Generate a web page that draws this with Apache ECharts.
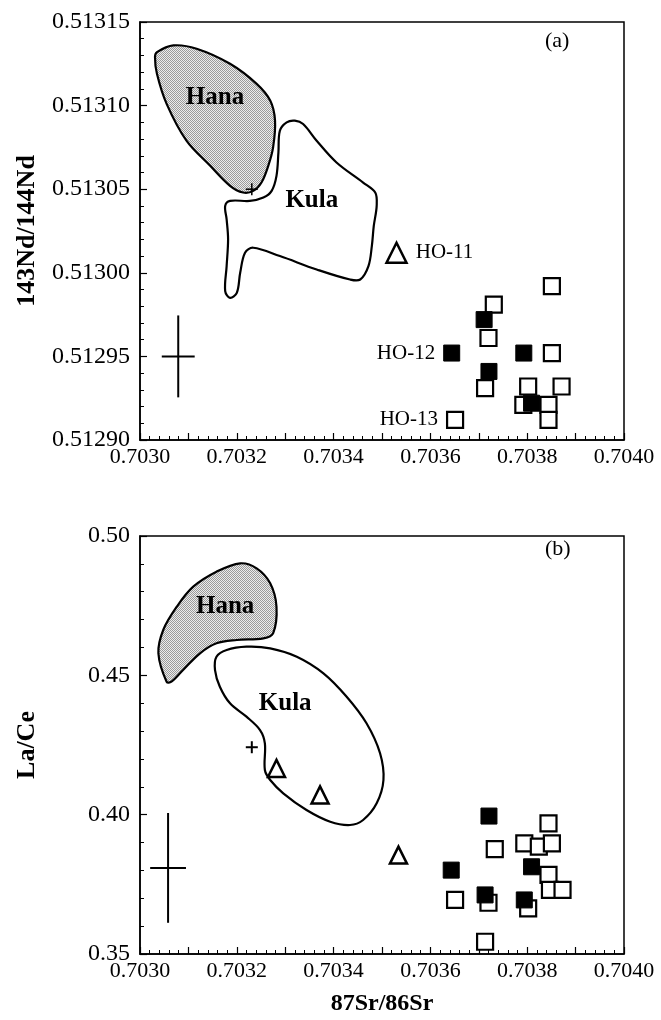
<!DOCTYPE html>
<html><head><meta charset="utf-8">
<script src="https://cdn.jsdelivr.net/npm/echarts@6/dist/echarts.min.js"></script>
<style>html,body{margin:0;padding:0;background:#fff}#c{width:661px;height:1020px}</style>
</head><body><div id="c"></div>
<script>
const FONT = '"Liberation Serif","Times New Roman",serif';

// ---- tick labels ----
const srTickLabels = ['0.7030', '0.7032', '0.7034', '0.7036', '0.7038', '0.7040'];
const ndTickLabels = ['0.51290', '0.51295', '0.51300', '0.51305', '0.51310', '0.51315'];
const laceTickLabels = ['0.35', '0.40', '0.45', '0.50'];

// ---- panel (a): 87Sr/86Sr vs 143Nd/144Nd ----
const ndOpenSquares = [[0.703851, 0.512992], [0.703731, 0.512981], [0.703720, 0.512961], [0.703851, 0.512952],
  [0.703713, 0.512931], [0.703802, 0.512932], [0.703871, 0.512932], [0.703792, 0.512921],
  [0.703844, 0.512921], [0.703844, 0.512912]];
const ndHO13 = [0.703651, 0.512912];
const ndFilledSquares = [[0.703711, 0.512972], [0.703793, 0.512952], [0.703721, 0.512941], [0.703809, 0.512922]];
const ndHO12 = [0.703644, 0.512952];
const ndHO11 = [0.703530, 0.513012];
const ndPlus = [[0.703231, 0.513050]];
const ndErrorCross = [[0.703079, 0.512950, 0.000034, 0.0000245]];
const ndHanaOutline = [[0.703035, 0.513132], [0.703069, 0.513136], [0.703117, 0.513134], [0.703186, 0.513125],
  [0.703241, 0.513113], [0.703269, 0.513103], [0.703279, 0.513091], [0.703275, 0.513075],
  [0.703265, 0.513064], [0.703251, 0.513054], [0.703234, 0.513049], [0.703213, 0.513048],
  [0.703186, 0.513052], [0.703145, 0.513064], [0.703096, 0.513079], [0.703055, 0.513101],
  [0.703035, 0.513119], [0.703031, 0.513129]];
const ndKulaOutline = [[0.703176, 0.513040], [0.703186, 0.513043], [0.703227, 0.513043], [0.703255, 0.513045],
  [0.703272, 0.513049], [0.703282, 0.513058], [0.703286, 0.513072], [0.703289, 0.513085],
  [0.703303, 0.513090], [0.703320, 0.513091], [0.703337, 0.513089], [0.703365, 0.513079],
  [0.703406, 0.513066], [0.703461, 0.513054], [0.703486, 0.513048], [0.703489, 0.513040],
  [0.703483, 0.513028], [0.703479, 0.513016], [0.703472, 0.513004], [0.703455, 0.512996],
  [0.703434, 0.512996], [0.703365, 0.513002], [0.703289, 0.513010], [0.703234, 0.513015],
  [0.703217, 0.513012], [0.703207, 0.513000], [0.703200, 0.512988], [0.703186, 0.512985],
  [0.703176, 0.512989], [0.703179, 0.513004], [0.703182, 0.513020], [0.703179, 0.513032]];
const ndRegionNames = [{ name: 'Hana', value: [0.703155, 0.513105] }, { name: 'Kula', value: [0.703355, 0.513043] }];

// ---- panel (b): 87Sr/86Sr vs La/Ce ----
const laOpenSquares = [[0.703844, 0.3969], [0.703733, 0.3876], [0.703794, 0.3897], [0.703824, 0.3885],
  [0.703851, 0.3897], [0.703844, 0.3784], [0.703847, 0.3730], [0.703873, 0.3730],
  [0.703651, 0.3694], [0.703720, 0.3684], [0.703802, 0.3664], [0.703713, 0.3544]];
const laFilledSquares = [[0.703721, 0.3995], [0.703643, 0.3801], [0.703809, 0.3813], [0.703713, 0.3712], [0.703794, 0.3694]];
const laTriangles = [[0.703282, 0.4166], [0.703372, 0.4071], [0.703534, 0.3855]];
const laPlus = [[0.703231, 0.4242]];
const laErrorCross = [[0.703058, 0.3809, 0.000037, 0.0197]];
const laHanaOutline = [[0.703055, 0.44772], [0.703038, 0.45791], [0.703048, 0.46627], [0.703076, 0.47463],
  [0.703110, 0.48181], [0.703158, 0.48719], [0.703207, 0.49020], [0.703241, 0.48841],
  [0.703269, 0.48303], [0.703282, 0.47463], [0.703275, 0.46508], [0.703255, 0.46329],
  [0.703200, 0.46268], [0.703158, 0.46150], [0.703124, 0.45791], [0.703089, 0.45191], [0.703065, 0.44772]];
const laKulaOutline = [[0.703158, 0.45669], [0.703179, 0.45909], [0.703220, 0.46028], [0.703269, 0.45970],
  [0.703324, 0.45669], [0.703379, 0.45073], [0.703427, 0.44233], [0.703468, 0.43279],
  [0.703496, 0.42202], [0.703503, 0.41244], [0.703489, 0.40408], [0.703461, 0.39809],
  [0.703434, 0.39629], [0.703393, 0.39748], [0.703344, 0.40168], [0.703296, 0.40767],
  [0.703269, 0.41244], [0.703258, 0.41603], [0.703258, 0.42561], [0.703248, 0.43038],
  [0.703220, 0.43516], [0.703186, 0.43996], [0.703165, 0.44592], [0.703155, 0.45191]];
const laRegionNames = [{ name: 'Hana', value: [0.703176, 0.47463] }, { name: 'Kula', value: [0.703300, 0.43996] }];

// ---------------------------------------------------------------
function stipple() {
  const c = document.createElement('canvas'); c.width = 4; c.height = 4;
  const g = c.getContext('2d');
  g.fillStyle = '#ececec'; g.fillRect(0, 0, 4, 4);
  g.fillStyle = '#9a9a9a';
  for (let y = 0; y < 4; y++) for (let x = 0; x < 4; x++) if ((x + y) % 2 === 0) g.fillRect(x, y, 1, 1);
  return { image: c, repeat: 'repeat' };
}
const HANA_FILL = stipple();

function polyRender(outline, fill) {
  return function (params, api) {
    if (params.dataIndex !== 0) return null;
    const pts = outline.map(p => api.coord(p));
    return { type: 'polygon', shape: { points: pts, smooth: 0.35 },
      style: { fill: fill, stroke: '#000', lineWidth: 2.2 } };
  };
}
function crossRender(params, api) {
  const cx = api.value(0), cy = api.value(1), hx = api.value(2), hy = api.value(3);
  const a = api.coord([cx - hx, cy]), b = api.coord([cx + hx, cy]);
  const c = api.coord([cx, cy - hy]), d = api.coord([cx, cy + hy]);
  return { type: 'group', children: [
    { type: 'line', shape: { x1: a[0], y1: a[1], x2: b[0], y2: b[1] }, style: { stroke: '#000', lineWidth: 2 } },
    { type: 'line', shape: { x1: c[0], y1: c[1], x2: d[0], y2: d[1] }, style: { stroke: '#000', lineWidth: 2 } }] };
}
function plusRender(size, lw) {
  return function (params, api) {
    const p = api.coord([api.value(0), api.value(1)]);
    return { type: 'group', children: [
      { type: 'line', shape: { x1: p[0] - size, y1: p[1], x2: p[0] + size, y2: p[1] }, style: { stroke: '#000', lineWidth: lw } },
      { type: 'line', shape: { x1: p[0], y1: p[1] - size, x2: p[0], y2: p[1] + size }, style: { stroke: '#000', lineWidth: lw } }] };
  };
}

function xAxisDef(gridIndex, withName) {
  return {
    type: 'value', gridIndex: gridIndex, min: 0.7030, max: 0.7040, interval: 0.0001,
    axisLine: { show: true, onZero: false, lineStyle: { color: '#000', width: 1.5 } },
    axisTick: { show: true, inside: true, length: 7, lineStyle: { color: '#000', width: 1.2 } },
    minorTick: { show: true, splitNumber: 5, length: 4, lineStyle: { color: '#000', width: 1 } },
    splitLine: { show: false },
    axisLabel: { color: '#000', fontFamily: FONT, fontSize: 22, margin: 6,
      formatter: v => { const s = v.toFixed(4); return srTickLabels.indexOf(s) >= 0 ? s : ''; } },
    name: withName ? '87Sr/86Sr' : '', nameLocation: 'middle', nameGap: 38,
    nameTextStyle: { color: '#000', fontFamily: FONT, fontWeight: 'bold', fontSize: 24 }
  };
}
function yAxisDef(gridIndex, min, max, interval, labels, dec, name, gap) {
  return {
    type: 'value', gridIndex: gridIndex, min: min, max: max, interval: interval,
    axisLine: { show: true, onZero: false, lineStyle: { color: '#000', width: 1.5 } },
    axisTick: { show: true, inside: true, length: 7, lineStyle: { color: '#000', width: 1.2 } },
    minorTick: { show: true, splitNumber: 5, length: 4, lineStyle: { color: '#000', width: 1 } },
    splitLine: { show: false },
    axisLabel: { color: '#000', fontFamily: FONT, fontSize: 24, margin: 10,
      formatter: v => { const s = v.toFixed(dec); return labels.indexOf(s) >= 0 ? s : ''; } },
    name: name, nameLocation: 'middle', nameGap: gap, nameRotate: 90,
    nameTextStyle: { color: '#000', fontFamily: FONT, fontWeight: 'bold', fontSize: 26 }
  };
}

const openSq = { color: '#fff', borderColor: '#000', borderWidth: 2.2, opacity: 1 };
const fillSq = { color: '#000', borderColor: '#000', borderWidth: 1, opacity: 1 };
const triStyle = { color: '#fff', borderColor: '#000', borderWidth: 2.5, opacity: 1 };
const hoLabel = { show: true, color: '#000', fontFamily: FONT, fontSize: 21, distance: 8 };
const regionLabel = { show: true, position: 'inside', formatter: '{b}', color: '#000', fontFamily: FONT, fontWeight: 'bold', fontSize: 25 };

const option = {
  animation: false,
  backgroundColor: '#fff',
  grid: [
    { left: 140, top: 22, width: 484, height: 418, show: true, borderColor: '#000', borderWidth: 1.5 },
    { left: 140, top: 536, width: 484, height: 418, show: true, borderColor: '#000', borderWidth: 1.5 }
  ],
  xAxis: [xAxisDef(0, false), xAxisDef(1, true)],
  yAxis: [
    yAxisDef(0, 0.51290, 0.51315, 0.00005, ndTickLabels, 5, '143Nd/144Nd', 100),
    yAxisDef(1, 0.35, 0.50, 0.05, laceTickLabels, 2, 'La/Ce', 100)
  ],
  graphic: [
    { type: 'text', left: 545, top: 30, style: { text: '(a)', fontFamily: FONT, fontSize: 22, fill: '#000' } },
    { type: 'text', left: 545, top: 538, style: { text: '(b)', fontFamily: FONT, fontSize: 22, fill: '#000' } }
  ],
  series: [
    // panel (a)
    { type: 'custom', xAxisIndex: 0, yAxisIndex: 0, data: ndHanaOutline, renderItem: polyRender(ndHanaOutline, HANA_FILL), z: 2 },
    { type: 'custom', xAxisIndex: 0, yAxisIndex: 0, data: ndKulaOutline, renderItem: polyRender(ndKulaOutline, 'rgba(0,0,0,0)'), z: 2 },
    { type: 'scatter', xAxisIndex: 0, yAxisIndex: 0, symbolSize: 0, data: ndRegionNames, label: regionLabel, itemStyle: { opacity: 1 }, z: 3 },
    { type: 'custom', xAxisIndex: 0, yAxisIndex: 0, data: ndPlus, renderItem: plusRender(6, 1.5), z: 4 },
    { type: 'custom', xAxisIndex: 0, yAxisIndex: 0, data: ndErrorCross, renderItem: crossRender, z: 4 },
    { type: 'scatter', xAxisIndex: 0, yAxisIndex: 0, symbol: 'rect', symbolSize: 16, itemStyle: openSq, z: 5,
      data: ndOpenSquares.concat([{ value: ndHO13, label: Object.assign({ position: 'left', formatter: 'HO-13' }, hoLabel) }]) },
    { type: 'scatter', xAxisIndex: 0, yAxisIndex: 0, symbol: 'rect', symbolSize: 16, itemStyle: fillSq, z: 6,
      data: ndFilledSquares.concat([{ value: ndHO12, label: Object.assign({ position: 'left', formatter: 'HO-12' }, hoLabel) }]) },
    { type: 'scatter', xAxisIndex: 0, yAxisIndex: 0, symbol: 'triangle', symbolSize: 20, itemStyle: triStyle, z: 6,
      data: [{ value: ndHO11, label: Object.assign({ position: 'right', formatter: 'HO-11' }, hoLabel) }] },
    // panel (b)
    { type: 'custom', xAxisIndex: 1, yAxisIndex: 1, data: laHanaOutline, renderItem: polyRender(laHanaOutline, HANA_FILL), z: 2 },
    { type: 'custom', xAxisIndex: 1, yAxisIndex: 1, data: laKulaOutline, renderItem: polyRender(laKulaOutline, 'rgba(0,0,0,0)'), z: 2 },
    { type: 'scatter', xAxisIndex: 1, yAxisIndex: 1, symbolSize: 0, data: laRegionNames, label: regionLabel, itemStyle: { opacity: 1 }, z: 3 },
    { type: 'custom', xAxisIndex: 1, yAxisIndex: 1, data: laPlus, renderItem: plusRender(6, 2), z: 4 },
    { type: 'custom', xAxisIndex: 1, yAxisIndex: 1, data: laErrorCross, renderItem: crossRender, z: 4 },
    { type: 'scatter', xAxisIndex: 1, yAxisIndex: 1, symbol: 'rect', symbolSize: 16, itemStyle: openSq, z: 5, data: laOpenSquares },
    { type: 'scatter', xAxisIndex: 1, yAxisIndex: 1, symbol: 'rect', symbolSize: 16, itemStyle: fillSq, z: 6, data: laFilledSquares },
    { type: 'scatter', xAxisIndex: 1, yAxisIndex: 1, symbol: 'triangle', symbolSize: 17, itemStyle: triStyle, z: 6, data: laTriangles }
  ]
};
const chart = echarts.init(document.getElementById('c'), null, { renderer: 'canvas' });
chart.setOption(option);
</script>
</body></html>
